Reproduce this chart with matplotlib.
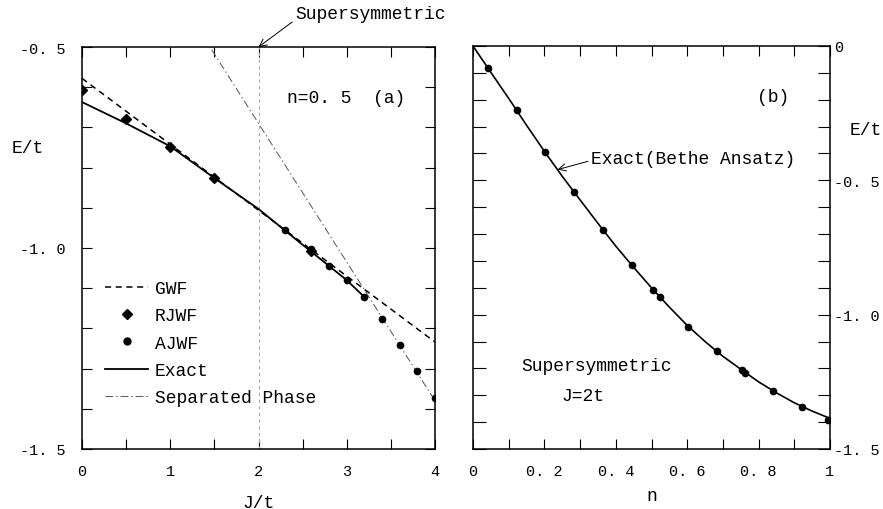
import matplotlib
matplotlib.use('Agg')
import matplotlib.pyplot as plt
from matplotlib.lines import Line2D
from matplotlib.ticker import MultipleLocator

plt.rcParams['font.family'] = ['Liberation Mono', 'DejaVu Sans Mono']
plt.rcParams['font.size'] = 13

# panel (a): n = 0.5, energy vs J/t
exact_J = [0.0, 0.5, 1.0, 1.5, 2.0, 2.5, 3.0, 3.2]
exact_E = [-0.637, -0.690, -0.747, -0.826, -0.903, -0.992, -1.080, -1.122]
gwf_J = [0.0, 4.0]
gwf_E = [-0.578, -1.234]
rjwf_J = [0.0, 0.5, 1.0, 1.5, 2.6]
rjwf_E = [-0.608, -0.678, -0.749, -0.826, -1.007]
ajwf_J = [2.3, 2.6, 2.8, 3.0, 3.2, 3.4, 3.6, 3.8, 4.0]
ajwf_E = [-0.955, -1.003, -1.045, -1.080, -1.122, -1.176, -1.241, -1.307, -1.374]
sep_J = [0.0, 4.0]
sep_E = [0.0, -1.38]
J_susy = 2.0

# panel (b): supersymmetric J = 2t, energy vs density n
bethe_n = [0.0, 0.05, 0.1, 0.15, 0.2, 0.25, 0.3, 0.35, 0.4, 0.45, 0.5,
           0.55, 0.6, 0.65, 0.7, 0.75, 0.8, 0.85, 0.9, 0.95, 1.0]
bethe_E = [0.0, -0.098, -0.195, -0.295, -0.392, -0.485, -0.573, -0.660, -0.745,
           -0.824, -0.900, -0.972, -1.040, -1.100, -1.155, -1.203, -1.250,
           -1.291, -1.328, -1.359, -1.386]
pts_n = [0.043, 0.122, 0.202, 0.283, 0.365, 0.444, 0.503, 0.524, 0.603,
         0.683, 0.753, 0.762, 0.841, 0.921, 0.995]
pts_E = [-0.082, -0.238, -0.396, -0.542, -0.684, -0.814, -0.907, -0.936, -1.045,
         -1.136, -1.205, -1.217, -1.285, -1.342, -1.392]

xticks_a = [0, 1, 2, 3, 4]
yticks_a = [-0.5, -1.0, -1.5]
ylabels_a = ['-0. 5', '-1. 0', '-1. 5']
xticks_b = [0, 0.2, 0.4, 0.6, 0.8, 1.0]
xlabels_b = ['0', '0. 2', '0. 4', '0. 6', '0. 8', '1']
yticks_b = [0, -0.5, -1.0, -1.5]
ylabels_b = ['0', '-0. 5', '-1. 0', '-1. 5']

fig = plt.figure(figsize=(8.83, 5.10), dpi=100)
ax1 = fig.add_axes([82/883, 60/510, 353/883, 402/510])
ax2 = fig.add_axes([473/883, 60/510, 357/883, 403/510])

for ax in (ax1, ax2):
    ax.tick_params(which='both', direction='in', top=True, right=True, width=0.8,
                   labelsize=11)
    ax.tick_params(which='major', length=7)
    ax.tick_params(which='minor', length=7)
    for s in ax.spines.values():
        s.set_linewidth(1.1)

# ---- panel (a)
ax1.axvline(J_susy, color='#aaaaaa', lw=0.8, ls=(0, (3, 3)))
ax1.plot(sep_J, sep_E, color='#555555', lw=0.7, ls=(0, (8, 3, 1.5, 3)))
ax1.plot(gwf_J, gwf_E, color='black', lw=1.1, ls=(0, (4, 3)))
ax1.plot(exact_J, exact_E, color='black', lw=1.3)
ax1.plot(rjwf_J, rjwf_E, ls='', marker='D', ms=5, color='black')
ax1.plot(ajwf_J, ajwf_E, ls='', marker='o', ms=4.5, color='black')
ax1.set_xlim(0, 4)
ax1.set_ylim(-1.5, -0.5)
ax1.set_xticks(xticks_a)
ax1.set_xticklabels([str(v) for v in xticks_a])
ax1.xaxis.set_minor_locator(MultipleLocator(0.5))
ax1.set_yticks(yticks_a)
ax1.set_yticklabels(ylabels_a)
ax1.yaxis.set_minor_locator(MultipleLocator(0.1))
ax1.tick_params(axis='x', pad=11)
ax1.tick_params(axis='y', pad=12)
ax1.set_xlabel('J/t', labelpad=11)
ax1.set_ylabel('E/t', rotation=0, va='center', ha='center')
ax1.yaxis.set_label_coords(-0.155, 0.749)
ax1.text(0.58, 0.875, 'n=0. 5  (a)', transform=ax1.transAxes, ha='left', va='center')

handles = [
    Line2D([], [], color='black', lw=1.1, ls=(0, (4, 3))),
    Line2D([], [], color='black', ls='', marker='D', ms=5),
    Line2D([], [], color='black', ls='', marker='o', ms=5),
    Line2D([], [], color='black', lw=1.3),
    Line2D([], [], color='#555555', lw=0.7, ls=(0, (8, 3, 1.5, 3))),
]
ax1.legend(handles, ['GWF', 'RJWF', 'AJWF', 'Exact', 'Separated Phase'],
           loc='upper left', bbox_to_anchor=(0.045, 0.438), frameon=False,
           handlelength=2.4, handletextpad=0.35, labelspacing=0.57,
           borderaxespad=0, fontsize=13)

ax1.annotate('Supersymmetric', xy=(J_susy, -0.5), xycoords='data',
             xytext=(295, 495), textcoords='figure pixels', ha='left', va='center',
             annotation_clip=False,
             arrowprops=dict(arrowstyle='->', color='black', lw=0.7,
                             shrinkA=0, shrinkB=0, relpos=(0, 0.15)))

# ---- panel (b)
ax2.plot(bethe_n, bethe_E, color='black', lw=1.2)
ax2.plot(pts_n, pts_E, ls='', marker='o', ms=4.5, color='black')
ax2.set_xlim(0, 1)
ax2.set_ylim(-1.5, 0)
ax2.set_xticks(xticks_b)
ax2.set_xticklabels(xlabels_b)
ax2.xaxis.set_minor_locator(MultipleLocator(0.1))
ax2.set_yticks(yticks_b)
ax2.set_yticklabels(ylabels_b)
ax2.yaxis.set_minor_locator(MultipleLocator(0.1))
ax2.tick_params(axis='y', which='both', length=9)
ax2.tick_params(axis='y', labelleft=False, labelright=True, pad=3)
ax2.tick_params(axis='x', pad=11)
ax2.set_xlabel('n', labelpad=6)
ax2.set_ylabel('E/t', rotation=0, va='center', ha='center')
ax2.yaxis.set_label_coords(1.101, 0.794)
ax2.text(0.84, 0.875, '(b)', transform=ax2.transAxes, ha='center', va='center')
ax2.annotate('Exact(Bethe Ansatz)', xy=(0.237, -0.46), xycoords='data',
             xytext=(0.33, -0.42), textcoords='data', ha='left', va='center',
             arrowprops=dict(arrowstyle='->', color='black', lw=0.7,
                             shrinkA=0, shrinkB=0, relpos=(0, 0.4)))
ax2.text(0.347, -1.19, 'Supersymmetric', ha='center', va='center')
ax2.text(0.308, -1.30, 'J=2t', ha='center', va='center')

fig.savefig('out.png', dpi=100)
